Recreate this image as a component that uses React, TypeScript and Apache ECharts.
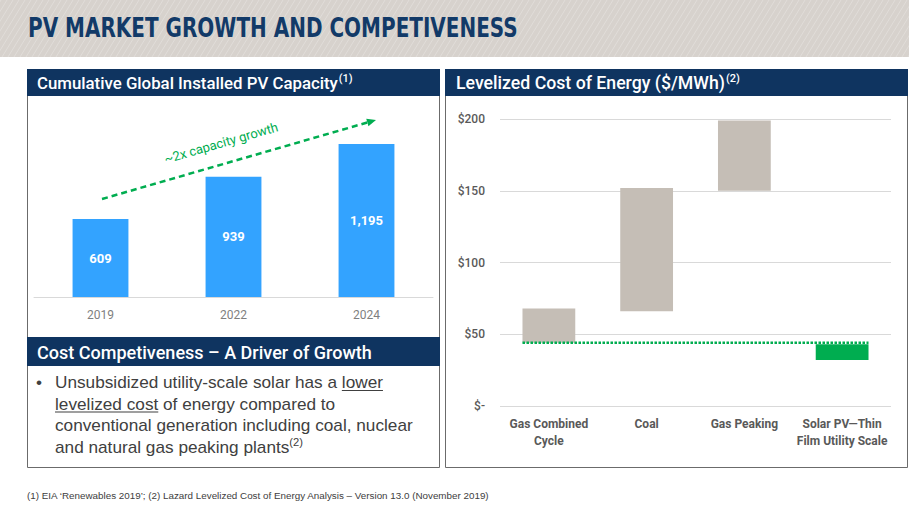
import React, { useEffect, useRef } from "react";
import * as echarts from "echarts";

// ---------- data ----------
const years = ["2019", "2022", "2024"];
const capacityGW = [609, 939, 1195];

const lcoeCategories = ["Gas Combined\nCycle", "Coal", "Gas Peaking", "Solar PV\u2014Thin\nFilm Utility Scale"];
const lcoeLow = [44, 66, 150, 32];
const lcoeHigh = [68, 152, 199, 43];
const solarBenchmark = 44; // dotted line level (low end of gas combined cycle)

const titleText = "PV MARKET GROWTH AND COMPETIVENESS";
const leftHeader = "Cumulative Global Installed PV Capacity";
const rightHeader = "Levelized Cost of Energy ($/MWh)";
const lowerHeader = "Cost Competiveness \u2013 A Driver of Growth";
const growthNote = "~2x capacity growth";
const footnote =
  "(1) EIA \u2018Renewables 2019\u2019; (2) Lazard Levelized Cost of Energy Analysis \u2013 Version 13.0 (November 2019)";
const bulletLines = [
  [{ t: "Unsubsidized utility-scale solar has a " }, { t: "lower", u: true }],
  [{ t: "levelized cost", u: true }, { t: " of energy compared to" }],
  [{ t: "conventional generation including coal, nuclear" }],
  [{ t: "and natural gas peaking plants" }, { t: "(2)", sup: true }],
];

// ---------- styles ----------
const NAVY = "#0f3460";
const BLUE = "#33a3ff";
const GRAY_BAR = "#c5beb6";
const GREEN = "#00ad50";
const FONT_UI = "Roboto, 'Liberation Sans', sans-serif";
const FONT_BODY = "'Liberation Sans', Arial, sans-serif";
const FONT_NARROW = "'Liberation Sans Narrow', 'DejaVu Sans Condensed', Roboto, sans-serif";

let measureCtx: CanvasRenderingContext2D | null = null;
function textWidth(text: string, weight: string | number, size: number, family: string) {
  if (!measureCtx) measureCtx = document.createElement("canvas").getContext("2d");
  measureCtx!.font = `${weight} ${size}px ${family}`;
  return measureCtx!.measureText(text).width;
}
function fitSize(text: string, weight: string | number, family: string, target: number, base: number) {
  const w = textWidth(text, weight, base, family);
  const s = (base * target) / w;
  return Math.max(base * 0.85, Math.min(base * 1.2, s));
}

export default function App() {
  const ref = useRef<HTMLDivElement>(null);

  useEffect(() => {
    if (!ref.current) return;
    const chart = echarts.init(ref.current, null, { renderer: "svg" });

    const elements: any[] = [];

    // title band
    elements.push({ type: "rect", shape: { x: 0, y: 0, width: 909, height: 57 }, style: { fill: "#d7d2cd" }, z: 0 });
    for (let x = -40; x < 920; x += 6) {
      elements.push({
        type: "line",
        shape: { x1: x, y1: 57, x2: x + 35, y2: 0 },
        style: { stroke: "rgba(255,255,255,0.35)", lineWidth: 0.7 },
        z: 0,
        silent: true,
      });
    }
    const titleW = textWidth(titleText, "bold", 26, FONT_NARROW);
    elements.push({
      type: "text",
      x: 28,
      y: 28,
      scaleX: Math.max(0.7, Math.min(1.3, 490 / titleW)),
      style: { text: titleText, fill: "#123a68", fontSize: 26, fontWeight: "bold", fontFamily: FONT_NARROW, verticalAlign: "middle" },
      z: 1,
    });

    // panels
    elements.push({ type: "rect", shape: { x: 27.5, y: 69.5, width: 412, height: 398 }, style: { fill: "none", stroke: "#6b6b6b", lineWidth: 1 }, z: 0 });
    elements.push({ type: "rect", shape: { x: 445.5, y: 69.5, width: 462, height: 398 }, style: { fill: "none", stroke: "#6b6b6b", lineWidth: 1 }, z: 0 });
    elements.push({ type: "rect", shape: { x: 27, y: 69, width: 413, height: 27 }, style: { fill: NAVY }, z: 1 });
    elements.push({ type: "rect", shape: { x: 445, y: 69, width: 463, height: 27 }, style: { fill: NAVY }, z: 1 });
    elements.push({ type: "rect", shape: { x: 27, y: 337, width: 413, height: 29 }, style: { fill: NAVY }, z: 1 });

    const header = (text: string, x: number, y: number, target: number, base: number, sup?: string) => {
      const size = fitSize(text, 500, FONT_UI, target, base);
      elements.push({
        type: "text",
        x,
        y,
        style: { text, fill: "#ffffff", fontSize: size, fontWeight: 500, fontFamily: FONT_UI, verticalAlign: "middle" },
        z: 2,
      });
      if (sup) {
        const w = textWidth(text, 500, size, FONT_UI);
        elements.push({
          type: "text",
          x: x + w + 1,
          y: y - 5,
          style: { text: sup, fill: "#ffffff", fontSize: 11, fontWeight: 500, fontFamily: FONT_UI, verticalAlign: "middle" },
          z: 2,
        });
      }
    };
    header(leftHeader, 37, 83, 301, 16, "(1)");
    header(rightHeader, 456, 83, 269, 17, "(2)");
    header(lowerHeader, 37, 352, 335, 18);

    // growth arrow
    const ax1 = 102, ay1 = 199, ax2 = 376, ay2 = 120;
    const len = Math.hypot(ax2 - ax1, ay2 - ay1);
    const dx = (ax2 - ax1) / len, dy = (ay2 - ay1) / len;
    const bx = ax2 - dx * 9, by = ay2 - dy * 9;
    elements.push({
      type: "line",
      shape: { x1: ax1, y1: ay1, x2: bx, y2: by },
      style: { stroke: GREEN, lineWidth: 2.5, lineDash: [6, 4] },
      z: 3,
    });
    elements.push({
      type: "polygon",
      shape: { points: [[ax2, ay2], [bx - dy * 4, by + dx * 4], [bx + dy * 4, by - dx * 4]] },
      style: { fill: GREEN },
      z: 3,
    });
    elements.push({
      type: "text",
      x: 221,
      y: 143,
      rotation: Math.atan2(ay1 - ay2, ax2 - ax1),
      style: { text: growthNote, fill: GREEN, fontSize: 13, fontFamily: FONT_UI, align: "center", verticalAlign: "middle" },
      z: 3,
    });

    // bullet paragraph
    const bodySize = fitSize(bulletLines[2][0].t, "normal", FONT_BODY, 358, 17);
    elements.push({
      type: "text",
      x: 36,
      y: 382,
      style: { text: "\u2022", fill: "#404040", fontSize: bodySize, fontFamily: FONT_BODY, verticalAlign: "middle" },
      z: 2,
    });
    const lineYs = [382, 403.5, 425, 446.5];
    bulletLines.forEach((segs: any[], li) => {
      let x = 55;
      segs.forEach((seg) => {
        const size = seg.sup ? bodySize * 0.65 : bodySize;
        const y = seg.sup ? lineYs[li] - 5 : lineYs[li];
        elements.push({
          type: "text",
          x,
          y,
          style: { text: seg.t, fill: "#404040", fontSize: size, fontFamily: FONT_BODY, verticalAlign: "middle" },
          z: 2,
        });
        const w = textWidth(seg.t, "normal", size, FONT_BODY);
        if (seg.u) {
          elements.push({
            type: "line",
            shape: { x1: x, y1: lineYs[li] + 8.5, x2: x + w, y2: lineYs[li] + 8.5 },
            style: { stroke: "#404040", lineWidth: 1.2 },
            z: 2,
          });
        }
        x += w;
      });
    });

    // footnote
    const footSize = fitSize(footnote, "normal", FONT_BODY, 463, 9.5);
    elements.push({
      type: "text",
      x: 27,
      y: 495,
      style: { text: footnote, fill: "#404040", fontSize: footSize, fontFamily: FONT_BODY, verticalAlign: "middle" },
      z: 2,
    });

    const barFrac = 0.54;
    const lineStart = 0.5 - barFrac / 2;
    const lineEnd = lcoeCategories.length - 0.5 + barFrac / 2;

    chart.setOption({
      animation: false,
      backgroundColor: "#ffffff",
      grid: [
        { left: 34, top: 105, width: 399, height: 192 },
        { left: 500, top: 119, width: 391, height: 287 },
      ],
      xAxis: [
        {
          gridIndex: 0,
          type: "category",
          data: years,
          axisLine: { lineStyle: { color: "#d9d9d9", width: 1 } },
          axisTick: { show: false },
          axisLabel: { color: "#7f7f7f", fontSize: 12, fontFamily: FONT_UI, margin: 12 },
        },
        {
          gridIndex: 1,
          type: "category",
          data: lcoeCategories,
          axisLine: { show: false },
          axisTick: { show: false },
          axisLabel: {
            interval: 0,
            color: "#595959",
            fontSize: 12,
            fontWeight: "bold",
            fontFamily: FONT_UI,
            lineHeight: 17,
            margin: 9,
          },
        },
        { gridIndex: 1, type: "value", min: 0, max: lcoeCategories.length, show: false },
      ],
      yAxis: [
        { gridIndex: 0, type: "value", min: 0, max: 1500, show: false },
        {
          gridIndex: 1,
          type: "value",
          min: 0,
          max: 200,
          interval: 50,
          axisLine: { show: false },
          axisTick: { show: false },
          splitLine: { lineStyle: { color: "#d9d9d9", width: 1 } },
          axisLabel: {
            color: "#595959",
            fontSize: 12,
            fontWeight: 500,
            fontFamily: FONT_UI,
            margin: 15,
            formatter: (v: number) => (v === 0 ? "$-" : "$" + v),
          },
        },
      ],
      series: [
        {
          type: "bar",
          xAxisIndex: 0,
          yAxisIndex: 0,
          data: capacityGW,
          barWidth: "42%",
          itemStyle: { color: BLUE },
          label: {
            show: true,
            position: "inside",
            color: "#ffffff",
            fontSize: 13,
            fontWeight: "bold",
            fontFamily: FONT_UI,
            formatter: (p: any) => Number(p.value).toLocaleString("en-US"),
          },
        },
        {
          type: "bar",
          xAxisIndex: 1,
          yAxisIndex: 1,
          stack: "lcoe",
          data: lcoeLow,
          barWidth: barFrac * 100 + "%",
          itemStyle: { color: "transparent" },
          silent: true,
        },
        {
          type: "bar",
          xAxisIndex: 1,
          yAxisIndex: 1,
          stack: "lcoe",
          barWidth: barFrac * 100 + "%",
          data: lcoeHigh.map((h, i) => ({
            value: h - lcoeLow[i],
            itemStyle: { color: i === lcoeCategories.length - 1 ? GREEN : GRAY_BAR },
          })),
        },
        {
          type: "line",
          xAxisIndex: 2,
          yAxisIndex: 1,
          data: [
            [lineStart, solarBenchmark],
            [lineEnd, solarBenchmark],
          ],
          symbol: "none",
          z: 5,
          lineStyle: { color: GREEN, width: 2.5, type: [2.5, 1.5] },
        },
      ],
      graphic: { elements },
    });

    return () => chart.dispose();
  }, []);

  return <div ref={ref} style={{ position: "absolute", left: 0, top: 0, width: 909, height: 514 }} />;
}
